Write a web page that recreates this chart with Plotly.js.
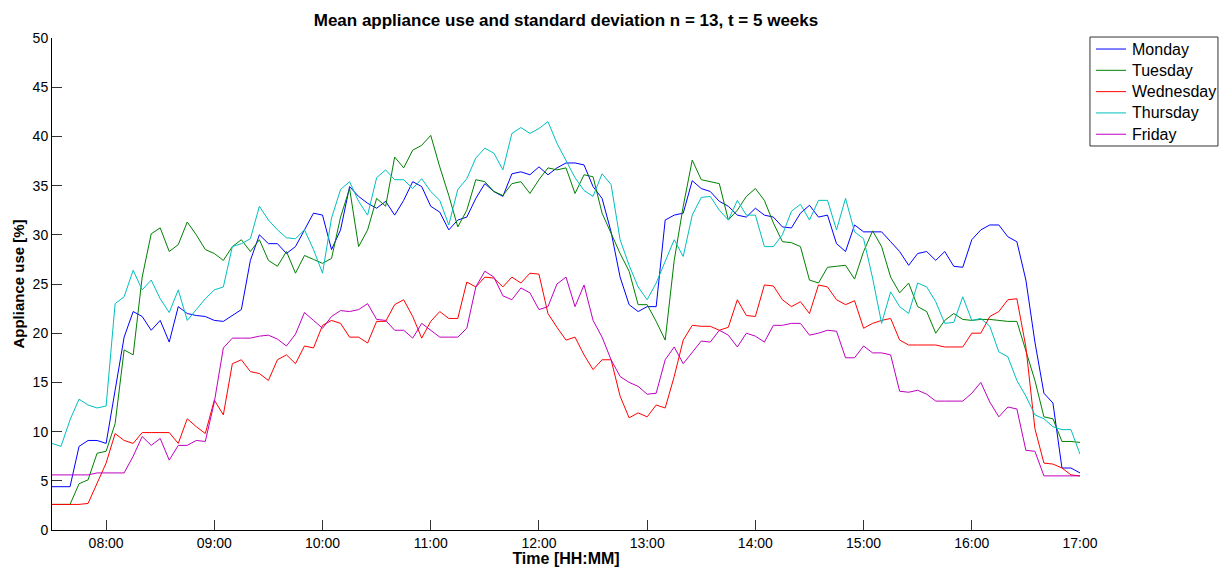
<!DOCTYPE html>
<html>
<head>
<meta charset="utf-8">
<script src="https://cdn.plot.ly/plotly-3.0.1.min.js"></script>
<style>
  html, body { margin: 0; padding: 0; background: #fff; }
  #chart { width: 1224px; height: 567px; }
</style>
</head>
<body>
<div id="chart"></div>
<script>
// Sampling grid: one reading every 5 minutes from 07:30 to 17:00
const startTime = '2000-01-01 07:30';
const stepMinutes = 5;

// Mean appliance use [%] per weekday
const monday = [
  4.4, 4.4, 4.4, 8.5, 9.1, 9.1, 8.8, 14.2, 19.6, 22.2,
  21.7, 20.3, 21.3, 19.1, 22.7, 22.0, 21.8, 21.7, 21.3, 21.2,
  21.8, 22.4, 27.4, 30.0, 29.1, 29.1, 28.1, 28.8, 30.5, 32.2,
  32.0, 28.5, 30.5, 34.9, 33.9, 33.2, 32.7, 33.4, 32.0, 33.5,
  35.4, 34.9, 32.9, 32.3, 30.5, 31.5, 31.8, 33.7, 35.2, 34.4,
  33.9, 36.2, 36.4, 36.1, 36.9, 36.1, 36.8, 37.3, 37.3, 37.1,
  34.9, 33.7, 30.3, 25.7, 22.9, 22.2, 22.7, 22.7, 31.5, 32.0,
  32.2, 35.5, 34.7, 34.4, 33.4, 32.9, 32.0, 31.8, 32.7, 32.0,
  31.8, 30.8, 30.7, 32.2, 33.0, 31.8, 32.0, 29.1, 28.3, 31.0,
  30.3, 30.3, 30.3, 29.3, 28.3, 26.9, 28.1, 28.3, 27.4, 28.3,
  26.8, 26.7, 29.5, 30.5, 31.0, 31.0, 29.8, 29.3, 25.4, 19.1,
  13.9, 12.9, 6.3, 6.3, 5.8
];
const tuesday = [
  2.6, 2.6, 2.6, 4.7, 5.1, 7.8, 8.0, 10.8, 18.3, 17.8,
  25.7, 30.1, 30.7, 28.3, 29.0, 31.3, 30.0, 28.5, 28.1, 27.4,
  28.8, 29.5, 28.3, 29.5, 27.4, 26.8, 28.3, 26.1, 27.9, 27.5,
  27.1, 27.6, 31.8, 34.7, 28.8, 30.5, 33.7, 32.9, 37.9, 36.8,
  38.6, 39.1, 40.1, 36.9, 34.0, 30.8, 32.5, 35.6, 35.4, 34.4,
  34.0, 35.2, 35.4, 34.2, 35.6, 36.8, 36.6, 36.8, 34.2, 36.1,
  35.9, 32.2, 30.1, 28.1, 26.3, 22.9, 22.9, 21.2, 19.3, 27.4,
  32.9, 37.6, 35.6, 35.4, 35.2, 31.5, 32.5, 33.9, 34.7, 33.5,
  31.2, 29.3, 29.2, 28.8, 25.4, 25.1, 26.7, 26.8, 26.9, 25.5,
  28.3, 30.4, 28.8, 25.7, 24.1, 25.1, 22.7, 22.2, 20.0, 21.3,
  22.0, 21.4, 21.3, 21.4, 21.4, 21.3, 21.2, 21.2, 18.3, 15.2,
  11.5, 11.3, 9.0, 9.0, 8.9
];
const wednesday = [
  2.6, 2.6, 2.6, 2.6, 2.7, 4.7, 6.8, 9.8, 9.1, 8.8,
  9.9, 9.9, 9.9, 9.9, 8.8, 11.3, 10.5, 9.8, 13.2, 11.7,
  16.9, 17.3, 16.1, 15.9, 15.2, 17.3, 17.8, 16.9, 18.7, 18.5,
  20.8, 21.3, 21.0, 19.6, 19.6, 19.0, 21.2, 21.2, 22.9, 23.4,
  21.7, 19.5, 21.2, 22.2, 21.5, 21.5, 25.2, 24.7, 25.7, 25.6,
  24.7, 25.7, 25.1, 26.1, 26.0, 22.0, 20.6, 19.3, 19.6, 17.8,
  16.3, 17.3, 17.3, 13.6, 11.4, 11.9, 11.5, 12.7, 12.4, 15.6,
  19.3, 20.8, 20.7, 20.7, 20.3, 20.6, 23.4, 21.8, 21.7, 24.9,
  24.8, 23.4, 22.7, 23.2, 22.0, 24.9, 24.7, 23.4, 22.9, 23.3,
  20.5, 21.0, 21.3, 21.5, 19.3, 18.8, 18.8, 18.8, 18.8, 18.6,
  18.6, 18.6, 20.0, 20.0, 21.7, 22.2, 23.4, 23.5, 18.6, 10.3,
  6.8, 6.7, 6.3, 5.6, 5.5
];
const thursday = [
  8.8, 8.5, 11.2, 13.3, 12.7, 12.4, 12.6, 23.0, 23.7, 26.4,
  24.4, 25.4, 23.5, 22.1, 24.4, 21.3, 22.4, 23.5, 24.4, 24.7,
  28.8, 29.1, 29.6, 32.9, 31.5, 30.5, 29.7, 29.6, 30.5, 28.5,
  26.1, 31.7, 34.6, 35.4, 33.4, 32.0, 35.8, 36.6, 35.6, 35.6,
  34.7, 35.7, 34.4, 33.5, 31.0, 34.6, 35.7, 37.8, 38.8, 38.3,
  36.6, 40.3, 40.9, 40.3, 40.8, 41.5, 39.3, 37.6, 35.8, 34.5,
  33.9, 36.2, 35.1, 29.5, 26.9, 24.7, 23.4, 25.1, 27.3, 29.5,
  27.8, 32.0, 33.8, 33.9, 32.5, 31.5, 33.5, 32.0, 32.0, 28.8,
  28.8, 30.0, 32.4, 33.1, 31.5, 33.5, 33.5, 30.5, 33.7, 30.3,
  29.6, 25.6, 21.0, 24.2, 22.7, 22.0, 25.1, 24.7, 23.2, 21.0,
  21.1, 23.7, 21.3, 21.5, 20.7, 18.1, 17.6, 15.2, 13.6, 11.7,
  11.3, 10.5, 10.2, 10.2, 7.7
];
const friday = [
  5.6, 5.6, 5.6, 5.6, 5.6, 5.8, 5.8, 5.8, 5.8, 7.5,
  9.5, 8.6, 9.3, 7.1, 8.6, 8.6, 9.1, 9.0, 13.0, 18.5,
  19.5, 19.5, 19.5, 19.7, 19.8, 19.4, 18.7, 19.9, 22.1, 21.3,
  20.5, 21.7, 22.3, 22.2, 22.4, 23.0, 21.4, 21.3, 20.3, 20.3,
  19.5, 21.0, 20.3, 19.6, 19.6, 19.6, 20.5, 24.7, 26.3, 25.7,
  23.8, 23.4, 24.6, 24.1, 22.4, 22.7, 25.0, 25.7, 22.7, 24.9,
  21.3, 19.6, 17.3, 15.6, 15.0, 14.6, 13.8, 13.9, 17.3, 18.6,
  16.9, 18.0, 19.2, 19.1, 20.3, 19.8, 18.6, 20.0, 19.7, 19.1,
  20.8, 20.8, 21.0, 21.0, 19.8, 20.0, 20.3, 20.2, 17.5, 17.5,
  18.7, 18.0, 18.0, 17.8, 14.1, 14.0, 14.2, 13.8, 13.1, 13.1,
  13.1, 13.1, 13.9, 15.0, 13.0, 11.5, 12.5, 12.3, 8.1, 8.0,
  5.5, 5.5, 5.5, 5.5, 5.5
];

const dayNames = ['Monday', 'Tuesday', 'Wednesday', 'Thursday', 'Friday'];
const dayColors = ['#0000ff', '#008000', '#ff0000', '#00bfbf', '#bf00bf'];
const dayValues = [monday, tuesday, wednesday, thursday, friday];

// Time stamps for the sampling grid
const t0 = new Date(startTime.replace(' ', 'T') + ':00Z').getTime();
function stamp(ms) {
  const d = new Date(ms);
  const p = n => String(n).padStart(2, '0');
  return '2000-01-01 ' + p(d.getUTCHours()) + ':' + p(d.getUTCMinutes());
}
const times = monday.map((_, i) => stamp(t0 + i * stepMinutes * 60000));

const traces = dayNames.map((name, k) => ({
  type: 'scatter',
  mode: 'lines',
  name: name,
  x: times,
  y: dayValues[k],
  line: { color: dayColors[k], width: 1 },
  showlegend: false
}));

// Boxed legend to the right of the axes (paper coordinates)
const legendBox = { x0: 1.0097, x1: 1.1342, y0: 0.7805, y1: 1.0020 };
const legendRow0 = 0.9776;   // centre of the first entry
const legendRowStep = 0.0433;
const legendShapes = [{
  type: 'rect', xref: 'paper', yref: 'paper',
  x0: legendBox.x0, x1: legendBox.x1, y0: legendBox.y0, y1: legendBox.y1,
  line: { color: '#333', width: 1 }, fillcolor: '#fff', layer: 'above'
}];
const legendLabels = [];
dayNames.forEach((name, k) => {
  const yk = legendRow0 - k * legendRowStep;
  legendShapes.push({
    type: 'line', xref: 'paper', yref: 'paper',
    x0: 1.0156, x1: 1.0448, y0: yk, y1: yk,
    line: { color: dayColors[k], width: 1 }, layer: 'above'
  });
  legendLabels.push({
    xref: 'paper', yref: 'paper', x: 1.0486, y: yk,
    xanchor: 'left', yanchor: 'middle', showarrow: false,
    text: name,
    font: { family: 'Liberation Sans, Arial, sans-serif', size: 16, color: '#000' }
  });
});

const axisFont = { family: 'Liberation Sans, Arial, sans-serif', size: 14, color: '#000' };

const layout = {
  width: 1224,
  height: 567,
  margin: { l: 52, r: 144, t: 38, b: 37, autoexpand: false },
  paper_bgcolor: '#fff',
  plot_bgcolor: '#fff',
  font: axisFont,
  showlegend: false,
  title: {
    text: 'Mean appliance use and standard deviation n = 13, t = 5 weeks',
    font: { family: 'Liberation Sans, Arial, sans-serif', size: 17, weight: 'bold', color: '#000' },
    x: 0.4624, xanchor: 'center',
    y: 0.964, yanchor: 'middle'
  },
  xaxis: {
    type: 'date',
    range: ['2000-01-01 07:30', '2000-01-01 17:00'],
    tick0: '2000-01-01 08:00',
    dtick: 3600000,
    tickformat: '%H:%M',
    ticks: 'inside',
    ticklen: 10,
    tickcolor: '#333',
    showline: true,
    linecolor: '#000',
    linewidth: 1,
    showgrid: false,
    zeroline: false,
    tickfont: axisFont,
    title: {
      text: 'Time [HH:MM]',
      font: { family: 'Liberation Sans, Arial, sans-serif', size: 16, weight: 'bold', color: '#000' },
      standoff: 2
    }
  },
  yaxis: {
    range: [0, 50],
    dtick: 5,
    ticks: 'inside',
    ticklen: 10,
    tickcolor: '#333',
    showline: true,
    linecolor: '#000',
    linewidth: 1,
    showgrid: false,
    zeroline: false,
    tickfont: axisFont,
    title: {
      text: 'Appliance use [%]',
      font: { family: 'Liberation Sans, Arial, sans-serif', size: 15, weight: 'bold', color: '#000' },
      standoff: 4
    }
  },
  shapes: legendShapes,
  annotations: legendLabels
};

Plotly.newPlot('chart', traces, layout, { displayModeBar: false, staticPlot: true });
</script>
</body>
</html>
